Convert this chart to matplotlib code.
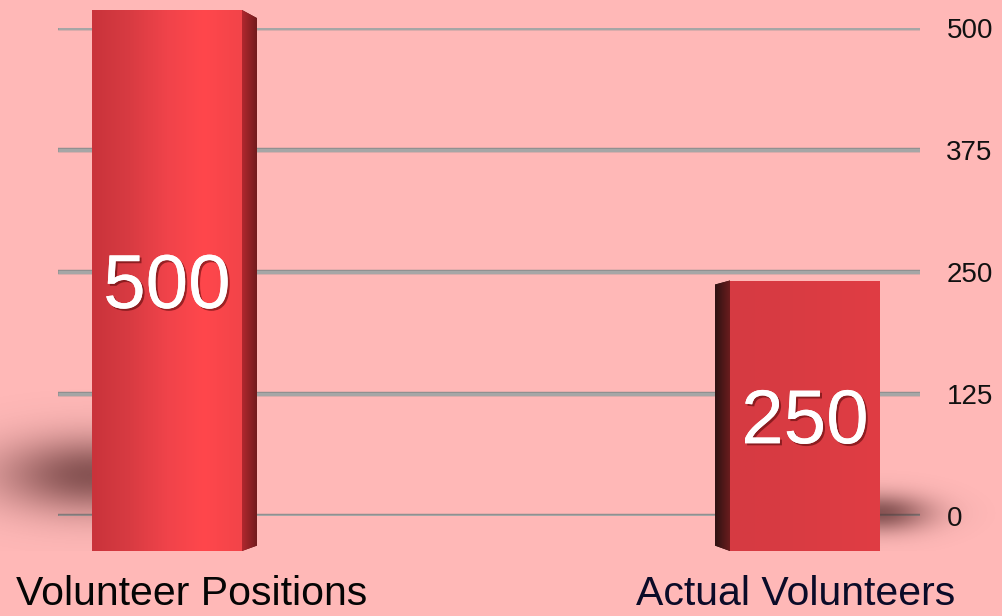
import numpy as np
import matplotlib
matplotlib.use("Agg")
import matplotlib.pyplot as plt
from matplotlib.colors import LinearSegmentedColormap
from matplotlib.patches import Polygon
import matplotlib.patheffects as pe
import matplotlib.transforms as mtransforms

# ---- data ----
categories = ["Volunteer Positions", "Actual Volunteers"]
values = [500, 250]
value_labels = ["500", "250"]
y_ticks = [0, 125, 250, 375, 500]
y_tick_labels = ["0", "125", "250", "375", "500"]

BG = "#ffb8b7"
W, H = 1002, 616
fig = plt.figure(figsize=(W / 100, H / 100), dpi=100, facecolor=BG)

# ---- grid axes (back plane) ----
ax_g = fig.add_axes([58 / W, (H - 516) / H, (920 - 58) / W, (516 - 28) / H])
ax_g.set_facecolor("none")
ax_g.set_ylim(0, 500)
ax_g.set_xlim(0, 1)
ax_g.set_yticks(y_ticks)
ax_g.set_yticklabels(y_tick_labels, fontsize=20, family="Liberation Sans", color="#111111")
ax_g.yaxis.tick_right()
ax_g.tick_params(axis="y", length=0, pad=19)
ax_g.set_xticks([])
for s in ax_g.spines.values():
    s.set_visible(False)
for t in y_ticks:
    ax_g.axhline(t, color="#a6a6a6", lw=2.4, solid_capstyle="butt", zorder=1,
                 path_effects=[pe.Stroke(linewidth=3.2, foreground="#8c8c8c"), pe.Normal()])

# ---- bar axes (front plane) ----
c0, c1 = 167, 805
unit = c1 - c0
xlim = ((0 - c0) / unit, (W - c0) / unit)
ax_b = fig.add_axes([0, (H - 551) / H, 1, (551 - 10) / H])
ax_b.set_facecolor("none")
ax_b.set_xlim(*xlim)
ax_b.set_ylim(0, 500)
for s in ax_b.spines.values():
    s.set_visible(False)
ax_b.set_yticks([])

x = np.arange(len(categories))
bar_w = 150 / unit
bars = ax_b.bar(x, values, width=bar_w, color="#d63a40", zorder=3, linewidth=0)

ax_b.set_xticks(x)
ax_b.set_xticklabels(categories, fontsize=29.5, family="Liberation Sans")
ax_b.tick_params(axis="x", length=0, pad=17)
label_shift_px = [25, -9]
for lbl, col, dx in zip(ax_b.get_xticklabels(), ["#050505", "#0b0b28"], label_shift_px):
    lbl.set_color(col)
    lbl.set_transform(lbl.get_transform() +
                      mtransforms.ScaledTranslation(dx / 100, 0, fig.dpi_scale_trans))

front_cmaps = [
    LinearSegmentedColormap.from_list("f1", ["#c9333b", "#d83b42", "#f0434a", "#ff474c", "#f24449"]),
    LinearSegmentedColormap.from_list("f2", ["#d63a42", "#d83b42", "#dc3c43", "#e03d44"]),
]
mid = np.mean(x)
for i, (r, cm) in enumerate(zip(bars, front_cmaps)):
    x0, w, h = r.get_x(), r.get_width(), r.get_height()
    side = 1 if x[i] < mid else -1
    sw = w * 0.1
    # soft floor shadow cast away from the centre, size grows with bar height
    L = w * 0.8 * (h / 500) + w * 0.05
    yc = 0.14 * h
    sy = 0.07 * h
    edge = x0 if side > 0 else x0 + w
    ex0, ex1 = (edge - 1.8 * L, edge + 0.2 * w) if side > 0 else (edge - 0.2 * w, edge + 1.8 * L)
    ey0, ey1 = 0, yc + 3 * sy
    gx = np.linspace(ex0, ex1, 300)
    gy = np.linspace(ey0, ey1, 120)
    GX, GY = np.meshgrid(gx, gy)
    dxn = (GX - edge) / (0.75 * L)
    alpha = np.exp(-dxn ** 2 - ((GY - yc) / sy) ** 2) * 0.7
    rgba = np.zeros(GX.shape + (4,))
    rgba[..., 0] = 0.33
    rgba[..., 1] = 0.16
    rgba[..., 2] = 0.16
    rgba[..., 3] = alpha
    ax_b.imshow(rgba, origin="lower", extent=(ex0, ex1, ey0, ey1), aspect="auto",
                zorder=2, interpolation="bilinear")

    grad = np.linspace(0, 1, 256).reshape(1, -1)
    im = ax_b.imshow(grad, cmap=cm, aspect="auto", extent=(x0, x0 + w, 0, h),
                     zorder=3.5, interpolation="bilinear")
    im.set_clip_path(r)
    if side > 0:
        xs = x0 + w
        poly = [(xs, 0), (xs + sw, h * 0.01), (xs + sw, h * 0.985), (xs, h)]
        scol = ["#b0282e", "#6e1a1c"]
    else:
        xs = x0
        poly = [(xs, 0), (xs - sw, h * 0.02), (xs - sw, h * 0.985), (xs, h)]
        scol = ["#6a1c1e", "#2e1212"]
    p = Polygon(poly, closed=True, facecolor=scol[1], edgecolor="none", zorder=3.4)
    ax_b.add_patch(p)
    sg = np.linspace(0, 1, 64).reshape(1, -1)
    scm = LinearSegmentedColormap.from_list("s%d" % i, scol if side > 0 else scol[::-1])
    sim = ax_b.imshow(sg, cmap=scm, aspect="auto",
                      extent=(min(xs, xs + side * sw), max(xs, xs + side * sw), 0, h),
                      zorder=3.45, interpolation="bilinear")
    sim.set_clip_path(p)
    ax_b.text(x[i], values[i] / 2, value_labels[i], ha="center", va="center_baseline",
              fontsize=55, color="white", family="Liberation Sans", zorder=5,
              path_effects=[pe.withSimplePatchShadow(offset=(1.5, -1.5), shadow_rgbFace="#400000", alpha=0.5),
                            pe.Normal()])

ax_b.set_xlim(*xlim)
ax_b.set_ylim(0, 500)
ax_g.set_zorder(1)
ax_b.set_zorder(2)
fig.savefig("out.png", dpi=100, facecolor=BG)
